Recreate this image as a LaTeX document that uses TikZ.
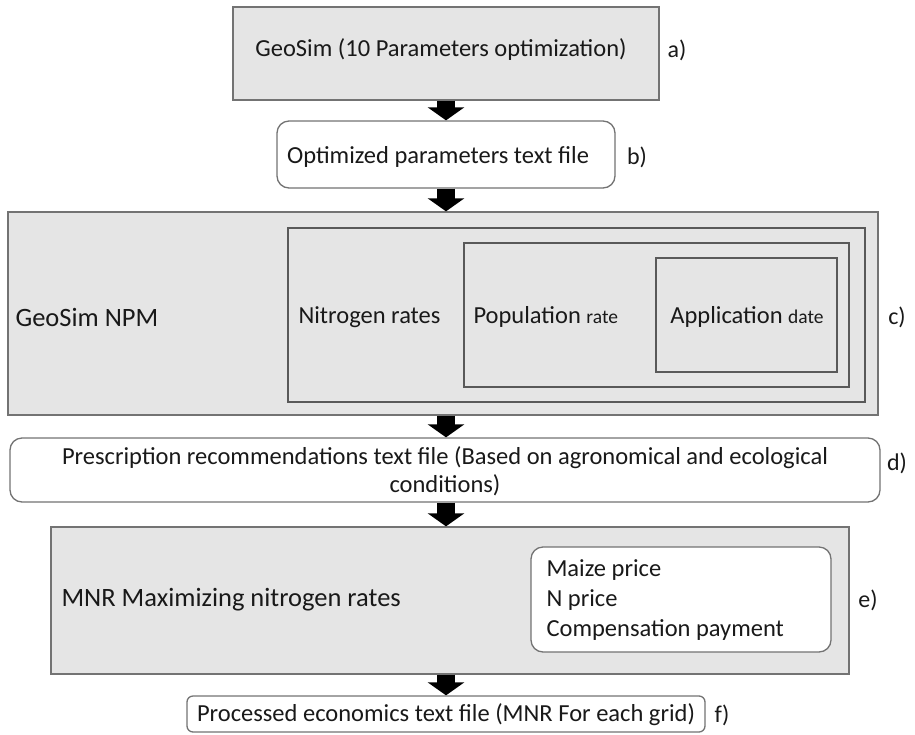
\documentclass[tikz,border=0pt]{standalone}
\usepackage{fontspec}
\setmainfont{Carlito}
\usetikzlibrary{arrows.meta}
\begin{document}
\begin{tikzpicture}[x=1pt,y=-1pt,
  every node/.style={font=\fontsize{24.5}{28}\selectfont, text=black!90},
  bigtext/.style={font=\fontsize{26.5}{30}\selectfont},
  graybox/.style={draw=black!55, line width=1.3pt, fill=black!10, inner sep=0pt},
  whitebox/.style={draw=black!55, line width=1.3pt, fill=white, rounded corners=12pt, inner sep=0pt},
  nestbox/.style={draw=black!65, line width=1.3pt, inner sep=0pt},
  lbl/.style={font=\fontsize{24}{28}\selectfont},
  bigarrow/.style={line width=18pt, draw=black, -{Triangle[width=36pt,length=13pt]}},
]
\useasboundingbox (0,0) rectangle (915,734);
% boxes
\node[graybox, minimum width=426pt, minimum height=93pt] (a) at (446,53.5) {};
\node at (441,50) {GeoSim (10 Parameters optimization)};
\node[whitebox, minimum width=338pt, minimum height=67pt] (b) at (446,154.5) {};
\node at (438,157) {Optimized parameters text file};
\node[graybox, minimum width=870pt, minimum height=203pt] (c) at (443,313.5) {};
\node[nestbox, minimum width=577pt, minimum height=174pt] (nit) at (576.5,315) {};
\node[nestbox, minimum width=385pt, minimum height=144pt] (pop) at (656.5,315) {};
\node[nestbox, minimum width=181pt, minimum height=114pt] (app) at (746.5,315) {};
\node[anchor=west, bigtext] at (12,317) {GeoSim NPM};
\node[anchor=west] at (295,317) {Nitrogen rates};
\node[anchor=west] at (470,317) {Population {\fontsize{19.5}{22}\selectfont rate}};
\node at (747,317) {Application {\fontsize{19.5}{22}\selectfont date}};
\node[whitebox, minimum width=870pt, minimum height=64pt] (d) at (445,470) {};
\node[align=center] at (445,471) {Prescription recommendations text file (Based on agronomical and ecological\\conditions)};
\node[graybox, minimum width=798pt, minimum height=147pt] (e) at (450,600.5) {};
\node[anchor=west, bigtext] at (58,600) {MNR Maximizing nitrogen rates};
\node[whitebox, minimum width=300pt, minimum height=105pt] (inner) at (681,599.5) {};
\node[anchor=west, align=left, font=\fontsize{24.5}{30}\selectfont] at (543,600) {Maize price\\N price\\Compensation payment};
\node[whitebox, rounded corners=6pt, minimum width=518pt, minimum height=36pt] (f) at (446,714) {};
\node at (446,715) {Processed economics text file (MNR For each grid)};
% labels
\node[lbl] at (677,50) {a)};
\node[lbl] at (637,157) {b)};
\node[lbl] at (897,317) {c)};
\node[lbl] at (897,463) {d)};
\node[lbl] at (868,600) {e)};
\node[lbl] at (722,715) {f)};
% arrows
\draw[bigarrow] (a.south) -- (b.north);
\draw[bigarrow] (b.south) -- (c.north -| b.south);
\draw[bigarrow] (c.south -| b.south) -- (d.north -| b.south);
\draw[bigarrow] (d.south -| b.south) -- (e.north -| b.south);
\draw[bigarrow] (e.south -| b.south) -- (f.north);
\end{tikzpicture}
\end{document}
